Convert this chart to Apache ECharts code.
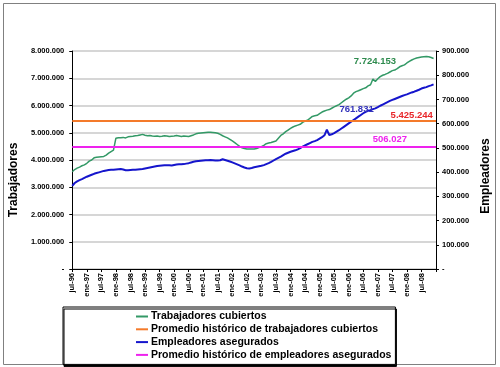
<!DOCTYPE html>
<html><head><meta charset="utf-8">
<script src="https://cdn.jsdelivr.net/npm/echarts@6/dist/echarts.min.js"></script>
<style>html,body{margin:0;padding:0;background:#fff}#c{width:500px;height:367px}</style>
</head><body><div id="c"></div>
<script>
// Month names and years for the category axis (jul-96 .. ene-09)
const mesesNombres = ['ene','feb','mar','abr','may','jun','jul','ago','sep','oct','nov','dic'];
const inicioMes = 6, inicioAnio = 1996, numCategorias = 151;

// Trabajadores cubiertos (thousands), monthly from jul-96
const trabajadoresMiles = [
 3570,3650,3700,3740,3790,3820,3880,3960,4000,4080,
 4100,4110,4120,4130,4180,4250,4310,4360,4800,4820,
 4820,4830,4810,4850,4860,4870,4890,4900,4920,4940,
 4910,4890,4900,4880,4870,4880,4860,4870,4890,4880,
 4860,4870,4880,4900,4880,4860,4880,4870,4860,4890,
 4920,4960,4980,4990,5000,5010,5020,5020,5010,5000,
 4980,4940,4890,4850,4810,4760,4700,4640,4570,4500,
 4450,4420,4400,4400,4400,4400,4420,4460,4490,4540,
 4600,4620,4640,4670,4700,4800,4900,4960,5040,5100,
 5160,5210,5250,5280,5310,5380,5430,5460,5530,5600,
 5620,5640,5700,5760,5800,5830,5850,5900,5950,5990,
 6030,6100,6170,6230,6280,6350,6450,6510,6540,6580,
 6620,6650,6720,6760,6970,6880,6980,7060,7110,7140,
 7180,7230,7280,7300,7350,7420,7460,7490,7560,7620,
 7670,7710,7740,7760,7780,7790,7800,7790,7760,7724
];
// Empleadores asegurados (thousands), monthly from jul-96
const empleadoresMiles = [
 343,355,362,367,371,376,381,385,389,393,
 396,399,402,405,407,409,410,410,411,412,
 413,411,408,408,409,410,410,411,412,413,
 415,417,419,421,423,425,426,427,428,428,
 428,427,429,431,432,432,433,435,437,440,
 443,445,446,447,448,449,449,450,449,448,
 448,449,453,450,447,444,440,436,432,428,
 423,419,416,415,417,420,422,424,426,429,
 433,437,442,448,454,459,464,470,476,480,
 484,487,490,494,499,505,510,515,520,525,
 528,532,538,544,552,575,553,556,561,567,
 573,580,587,594,601,608,615,622,629,636,
 643,649,653,656,660,663,668,674,679,684,
 689,694,698,702,706,710,714,718,721,725,
 729,732,736,740,745,748,751,755,758,762
];
const promedioTrabajadores = 5425244;
const promedioEmpleadores = 506027;
const etiquetaTrabajadores = '7.724.153';
const etiquetaEmpleadores = '761.831';
const etiquetaPromTrab = '5.425.244';
const etiquetaPromEmp = '506.027';

const nombresSeries = ['Trabajadores cubiertos','Promedio histórico de trabajadores cubiertos','Empleadores asegurados','Promedio histórico de empleadores asegurados'];

const categorias = [];
for (let k = 0; k < numCategorias; k++) {
  const m = (inicioMes + k) % 12;
  const a = inicioAnio + Math.floor((inicioMes + k) / 12);
  categorias.push(mesesNombres[m] + '-' + String(a % 100).padStart(2, '0'));
}
const fmt = v => v === 0 ? '-' : String(Math.round(v)).replace(/\B(?=(\d{3})+(?!\d))/g, '.');
const FONT = '"Liberation Sans", Arial, sans-serif';

const chart = echarts.init(document.getElementById('c'), null, {renderer: 'canvas'});
const trab = trabajadoresMiles.map(v => v * 1000);
const emp = empleadoresMiles.map(v => v * 1000);
const idxEmpLbl = categorias.indexOf('mar-06');

chart.setOption({
  animation: false,
  backgroundColor: '#fff',
  textStyle: {fontFamily: FONT},
  graphic: [{type: 'rect', shape: {x: 3.5, y: 3.5, width: 492, height: 361}, style: {fill: 'none', stroke: '#808080', lineWidth: 1}, z: -1}],
  grid: {left: 62, right: 58, top: 51, bottom: 98, containLabel: false},
  legend: {
    orient: 'vertical', left: 63, top: 307,
    padding: [4, 4, 4, 73], itemGap: 1.8,
    icon: 'rect', itemWidth: 12, itemHeight: 2,
    backgroundColor: '#fff', borderColor: '#000', borderWidth: 1,
    shadowColor: '#000', shadowOffsetX: 1, shadowOffsetY: 2, shadowBlur: 0,
    textStyle: {fontFamily: FONT, fontSize: 10.5, fontWeight: 'bold', color: '#000', padding: [0,0,0,-2]},
    data: nombresSeries
  },
  xAxis: {
    type: 'category', data: categorias, boundaryGap: false,
    axisLine: {lineStyle: {color: '#000', width: 1}},
    axisTick: {length: 3, lineStyle: {color: '#000'}, interval: i => i % 6 === 0},
    axisLabel: {rotate: 90, fontSize: 7.5, fontWeight: 'bold', color: '#000', margin: 4, fontFamily: FONT,
      interval: i => i % 6 === 0 && i < numCategorias - 1},
    splitLine: {show: false}
  },
  yAxis: [{
    type: 'value', min: 0, max: 8000000, interval: 1000000, position: 'left',
    name: 'Trabajadores', nameLocation: 'middle', nameGap: 45, nameRotate: 90,
    nameTextStyle: {fontSize: 12, fontWeight: 'bold', color: '#000', fontFamily: FONT, padding: [0, 40, 0, 0]},
    axisLine: {show: true, lineStyle: {color: '#000'}},
    axisTick: {show: true, length: 3, lineStyle: {color: '#000'}},
    axisLabel: {formatter: fmt, fontSize: 7.5, fontWeight: 'bold', color: '#000', margin: 8, fontFamily: FONT},
    splitLine: {show: true, lineStyle: {color: '#c8c8c8', width: 1.5}}
  }, {
    type: 'value', min: 0, max: 900000, interval: 100000, position: 'right',
    name: 'Empleadores', nameLocation: 'middle', nameGap: 41, nameRotate: 90,
    nameTextStyle: {fontSize: 12, fontWeight: 'bold', color: '#000', fontFamily: FONT, padding: [0, 32, 0, 0]},
    axisLine: {show: true, lineStyle: {color: '#000'}},
    axisTick: {show: true, length: 3, lineStyle: {color: '#000'}},
    axisLabel: {formatter: fmt, fontSize: 7.5, fontWeight: 'bold', color: '#000', margin: 6, fontFamily: FONT},
    splitLine: {show: false}
  }],
  series: [{
    name: nombresSeries[0], type: 'line', yAxisIndex: 0, data: trab,
    showSymbol: false, symbol: 'none', color: '#339966',
    lineStyle: {color: '#339966', width: 1.5}, z: 4,
    markPoint: {symbol: 'circle', symbolSize: 0, silent: true,
      label: {show: true, formatter: etiquetaTrabajadores, position: 'inside', offset: [2, 3], color: '#2E8B4E', fontSize: 9.5, fontWeight: 'bold', fontFamily: FONT},
      data: [{coord: ['nov-06', trab[trab.length - 1]]}]}
  }, {
    name: nombresSeries[1], type: 'line', yAxisIndex: 0, data: [],
    symbol: 'none', color: '#F47A2A', lineStyle: {color: '#F47A2A', width: 2},
    markLine: {symbol: 'none', silent: true, label: {show: false},
      lineStyle: {color: '#F47A2A', width: 2, type: 'solid'},
      data: [{yAxis: promedioTrabajadores}]},
    markPoint: {symbol: 'circle', symbolSize: 0, silent: true,
      label: {show: true, formatter: etiquetaPromTrab, position: 'inside', offset: [0, -6], color: '#E8262A', fontSize: 9.5, fontWeight: 'bold', fontFamily: FONT},
      data: [{coord: ['mar-08', promedioTrabajadores]}]}
  }, {
    name: nombresSeries[2], type: 'line', yAxisIndex: 1, data: emp,
    showSymbol: false, symbol: 'none', color: '#1515CC',
    lineStyle: {color: '#1515CC', width: 2}, z: 3,
    markPoint: {symbol: 'circle', symbolSize: 0, silent: true,
      label: {show: true, formatter: etiquetaEmpleadores, position: 'inside', offset: [3, -11], color: '#3333BB', fontSize: 9.5, fontWeight: 'bold', fontFamily: FONT},
      data: [{coord: ['mar-06', emp[idxEmpLbl]]}]}
  }, {
    name: nombresSeries[3], type: 'line', yAxisIndex: 1, data: [],
    symbol: 'none', color: '#EE22EE', lineStyle: {color: '#EE22EE', width: 2},
    markLine: {symbol: 'none', silent: true, label: {show: false},
      lineStyle: {color: '#EE22EE', width: 2, type: 'solid'},
      data: [{yAxis: promedioEmpleadores}]},
    markPoint: {symbol: 'circle', symbolSize: 0, silent: true,
      label: {show: true, formatter: etiquetaPromEmp, position: 'inside', offset: [0, -7], color: '#EE22EE', fontSize: 9.5, fontWeight: 'bold', fontFamily: FONT},
      data: [{coord: ['jun-07', promedioEmpleadores]}]}
  }]
});
</script>
</body></html>
